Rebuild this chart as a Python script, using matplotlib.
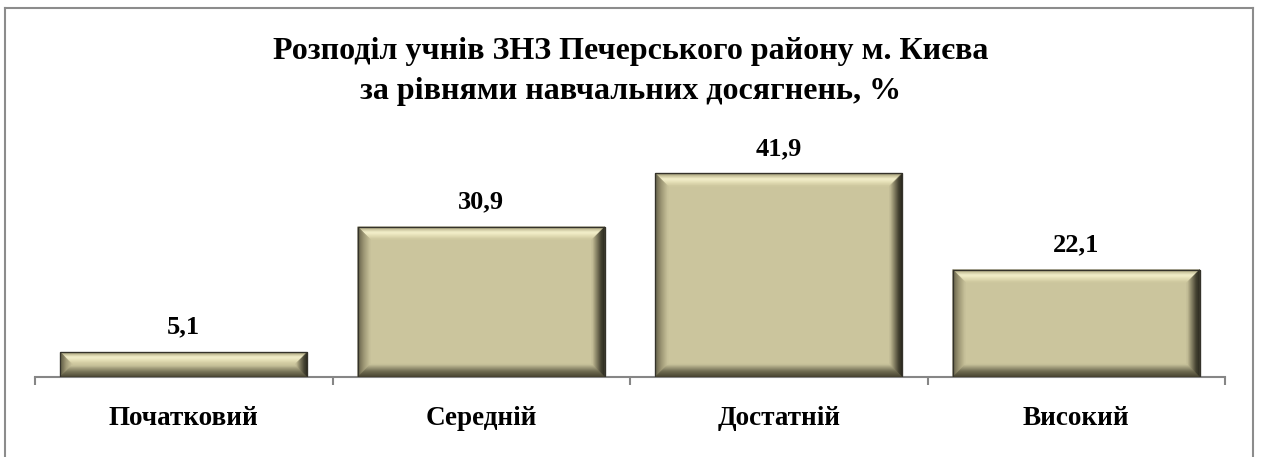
import numpy as np
import matplotlib
matplotlib.use("Agg")
import matplotlib.pyplot as plt
from matplotlib.patches import Polygon
from matplotlib.lines import Line2D
from matplotlib.colors import to_rgb

categories = ["Початковий", "Середній", "Достатній", "Високий"]
values = [5.1, 30.9, 41.9, 22.1]
value_labels = ["5,1", "30,9", "41,9", "22,1"]
title = "Розподіл учнів ЗНЗ Печерського району м. Києва\nза рівнями навчальних досягнень, %"

W, H = 1261, 457
fig = plt.figure(figsize=(W / 100, H / 100), dpi=100)
ax = fig.add_axes([35 / W, 1 - 377 / H, 1190 / W, (377 - 134) / H])

face = "#cbc59d"
x = np.arange(len(categories))
bars = ax.bar(x, values, width=0.83, color=face, edgecolor="#3a3828", linewidth=0.8, zorder=2)

ax.set_xlim(-0.5, len(categories) - 0.5)
ax.set_ylim(0, 50)
ax.set_yticks([])
for s in ["top", "right", "left"]:
    ax.spines[s].set_visible(False)
ax.spines["bottom"].set_color("#868686")
ax.spines["bottom"].set_linewidth(1.5)
ax.set_xticks(np.arange(len(categories) + 1) - 0.5)
ax.set_xticklabels([])
ax.tick_params(axis="x", direction="out", length=6, width=1.5, color="#868686")

serif = ["Liberation Serif", "DejaVu Serif"]
for xi, v, lab in zip(x, values, value_labels):
    ax.annotate(lab, (xi, v), xytext=(0, 18), textcoords="offset points",
                ha="center", va="center", fontsize=19, fontweight="bold", family=serif)
for xi, c in zip(x, categories):
    ax.annotate(c, (xi, 0), xytext=(0, -30), textcoords="offset points",
                ha="center", va="center", fontsize=19.5, fontweight="bold", family=serif)

fig.text(0.5, 1 - 71 / H, title, ha="center", va="center", fontsize=23,
         fontweight="bold", family=serif, linespacing=1.5)

# bevel effect drawn in pixel space, converted back to data coords
fig.canvas.draw()
inv = ax.transData.inverted()
b = 13


def ramp(stops, t):
    ts = [s[0] for s in stops]
    cols = np.array([to_rgb(s[1]) for s in stops])
    return tuple(np.interp(t, ts, cols[:, k]) for k in range(3))


top_stops = [(0, "#7f7a5e"), (0.2, "#c8c29a"), (0.45, "#f8f4d0"), (0.75, "#e2ddb3"), (1, face)]
left_stops = [(0, "#5a5640"), (0.5, "#9c9674"), (1, face)]
right_stops = [(0, "#1e1d15"), (0.3, "#3c3a2b"), (0.7, "#8f8a6b"), (1, face)]
bot_stops = [(0, "#45422f"), (0.45, "#6e6a50"), (1, face)]

for bar in bars:
    x0, y0 = ax.transData.transform((bar.get_x(), 0))
    x1, y1 = ax.transData.transform((bar.get_x() + bar.get_width(), bar.get_height()))
    bb = min(b, (y1 - y0) / 2 - 0.5)
    n = 13
    for i in range(n):
        d0 = bb * i / n
        d1 = bb * (i + 1) / n
        t = (i + 0.5) / n
        quads = [
            ([(x0 + d0, y1 - d0), (x1 - d0, y1 - d0), (x1 - d1, y1 - d1), (x0 + d1, y1 - d1)], top_stops),
            ([(x0 + d0, y0 + d0), (x0 + d0, y1 - d0), (x0 + d1, y1 - d1), (x0 + d1, y0 + d1)], left_stops),
            ([(x1 - d0, y0 + d0), (x1 - d0, y1 - d0), (x1 - d1, y1 - d1), (x1 - d1, y0 + d1)], right_stops),
            ([(x0 + d0, y0 + d0), (x1 - d0, y0 + d0), (x1 - d1, y0 + d1), (x0 + d1, y0 + d1)], bot_stops),
        ]
        for pts, stops in quads:
            col = ramp(stops, t)
            ax.add_patch(Polygon(inv.transform(pts), closed=True, facecolor=col,
                                 edgecolor=col, linewidth=0.3, zorder=3))
    ax.add_patch(Polygon(inv.transform([(x0, y0), (x0, y1), (x1, y1), (x1, y0)]), closed=True,
                         fill=False, edgecolor="#34322a", linewidth=0.9, zorder=4))

# outer frame
fc = "#8c8c8c"
fig.add_artist(Line2D([5 / W, 5 / W], [0, 1 - 8 / H], color=fc, lw=1.5))
fig.add_artist(Line2D([5 / W, 1253 / W], [1 - 8 / H, 1 - 8 / H], color=fc, lw=1.5))
fig.add_artist(Line2D([1253 / W, 1253 / W], [0, 1 - 8 / H], color=fc, lw=1.5))

fig.savefig("out.png", dpi=100)
